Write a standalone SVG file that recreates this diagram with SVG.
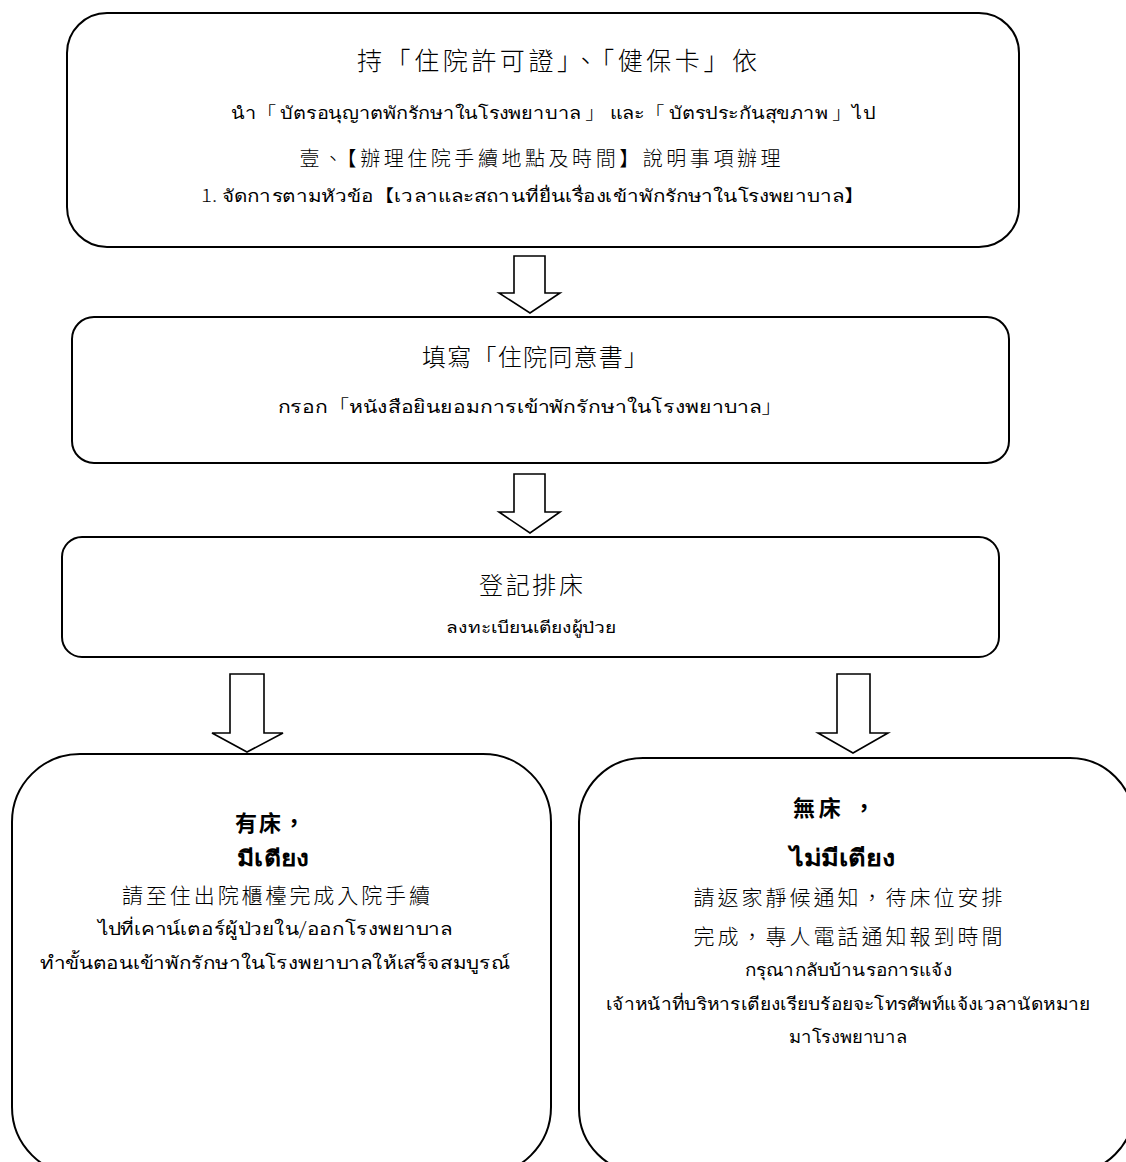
<svg xmlns="http://www.w3.org/2000/svg" width="1126" height="1162" viewBox="0 0 1126 1162" xml:lang="zh-TW" lang="zh-TW">
<style>
.box{fill:#fff;stroke:#000;stroke-width:2}
.arr{fill:#fff;stroke:#000;stroke-width:1.6;stroke-linejoin:miter}
text{font-family:"Noto Sans CJK TC","Noto Sans",sans-serif;fill:#000;text-anchor:middle;font-weight:300}
.cj{font-size:24px}
.th{font-size:17px}
.b{font-weight:bold}
</style>
<rect width="1126" height="1162" fill="#fff"/>
<g id="connectors">
<polygon class="arr" points="514,256 545,256 545,293 560,293 530,313 499,293 514,293"/>
<polygon class="arr" points="514,474 545,474 545,512 560,512 530,533 499,512 514,512"/>
<polygon class="arr" points="230,674 264,674 264,733 283,733 247,752 212,733 230,733"/>
<polygon class="arr" points="837,674 870,674 870,733 888,733 853,753 818,733 837,733"/>
</g>
<g id="node1">
<rect class="box" x="67" y="13" width="952" height="234" rx="40" ry="40"/>
<text class="cj" x="557" y="70" style="font-size:25px" textLength="400" lengthAdjust="spacing">持「住院許可證」、「健保卡」依</text>
<text class="th" x="553" y="119" textLength="645" lengthAdjust="spacingAndGlyphs">นำ「 บัตรอนุญาตพักรักษาในโรงพยาบาล 」 และ「 บัตรประกันสุขภาพ 」ไป</text>
<text class="cj" x="540" y="166" style="font-size:20px" textLength="481" lengthAdjust="spacing">壹、【辦理住院手續地點及時間】說明事項辦理</text>
<text class="th" x="533" y="202" textLength="664" lengthAdjust="spacingAndGlyphs">1. จัดการตามหัวข้อ【เวลาและสถานที่ยื่นเรื่องเข้าพักรักษาในโรงพยาบาล】</text>
</g>
<g id="node2">
<rect class="box" x="72" y="317" width="937" height="146" rx="22" ry="22"/>
<text class="cj" x="535" y="366" textLength="226" lengthAdjust="spacing">填寫「住院同意書」</text>
<text class="th" x="530" y="413" style="font-size:18px" textLength="505" lengthAdjust="spacingAndGlyphs">กรอก「หนังสือยินยอมการเข้าพักรักษาในโรงพยาบาล」</text>
</g>
<g id="node3">
<rect class="box" x="62" y="537" width="937" height="120" rx="20" ry="20"/>
<text class="cj" x="531" y="594" textLength="104" lengthAdjust="spacing">登記排床</text>
<text class="th" x="531" y="633" style="font-size:16px" textLength="170" lengthAdjust="spacingAndGlyphs">ลงทะเบียนเตียงผู้ป่วย</text>
</g>
<g id="node4">
<rect class="box" x="12" y="754" width="539" height="421" rx="68" ry="68"/>
<text class="b" x="270" y="831" style="font-size:22px" textLength="70" lengthAdjust="spacing">有床，</text>
<text class="b" x="273" y="866" style="font-size:22px" textLength="73" lengthAdjust="spacingAndGlyphs">มีเตียง</text>
<text x="276" y="903" style="font-size:21px" textLength="308" lengthAdjust="spacing">請至住出院櫃檯完成入院手續</text>
<text x="275" y="935" style="font-size:18px" textLength="355" lengthAdjust="spacingAndGlyphs">ไปที่เคาน์เตอร์ผู้ป่วยใน/ออกโรงพยาบาล</text>
<text x="275" y="969" style="font-size:18px" textLength="470" lengthAdjust="spacingAndGlyphs">ทำขั้นตอนเข้าพักรักษาในโรงพยาบาลให้เสร็จสมบูรณ์</text>
</g>
<g id="node5">
<rect class="box" x="579" y="758" width="555" height="415" rx="64" ry="64"/>
<text class="b" x="834" y="816" style="font-size:22px" textLength="82" lengthAdjust="spacing">無床 ，</text>
<text class="b" x="842" y="866" style="font-size:23px" textLength="105" lengthAdjust="spacingAndGlyphs">ไม่มีเตียง</text>
<text x="848" y="905" style="font-size:21px" textLength="309" lengthAdjust="spacing">請返家靜候通知，待床位安排</text>
<text x="848" y="944" style="font-size:21px" textLength="309" lengthAdjust="spacing">完成，專人電話通知報到時間</text>
<text x="848" y="976" style="font-size:17px" textLength="207" lengthAdjust="spacingAndGlyphs">กรุณากลับบ้านรอการแจ้ง</text>
<text x="848" y="1010" style="font-size:17px" textLength="485" lengthAdjust="spacingAndGlyphs">เจ้าหน้าที่บริหารเตียงเรียบร้อยจะโทรศัพท์แจ้งเวลานัดหมาย</text>
<text x="848" y="1043" style="font-size:17px" textLength="118" lengthAdjust="spacingAndGlyphs">มาโรงพยาบาล</text>
</g>
</svg>
